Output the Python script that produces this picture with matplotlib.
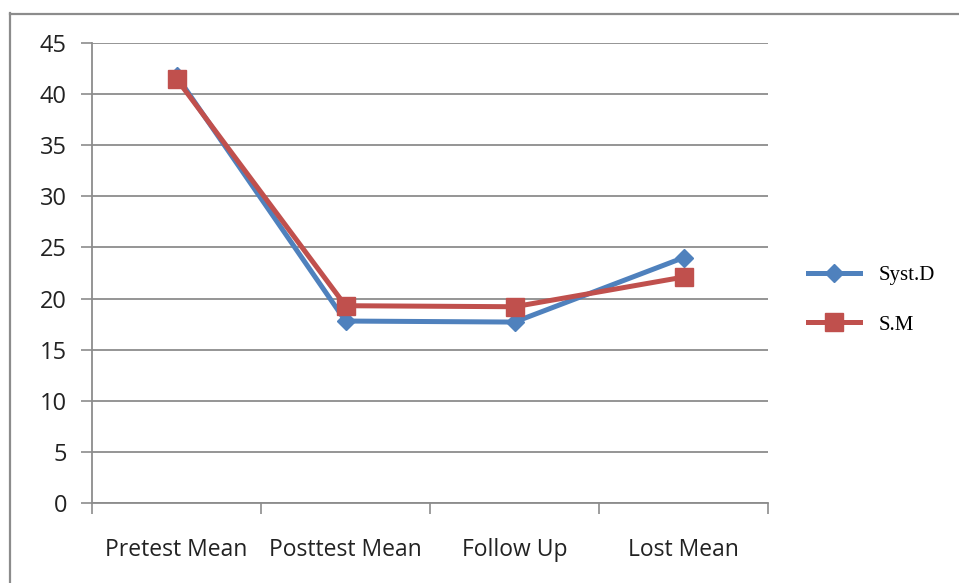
import numpy as np
import matplotlib.pyplot as plt
from matplotlib.lines import Line2D

categories = ['Pretest Mean', 'Posttest Mean', 'Follow Up', 'Lost Mean']
syst_d = [41.8, 17.8, 17.7, 24.0]
s_m = [41.5, 19.3, 19.2, 22.1]
series_names = ['Syst.D', 'S.M']
y_ticks = list(range(0, 50, 5))

blue = '#4f81bd'
red = '#c0504d'
grid_col = '#8c8c8c'

W, H = 959, 583
fig = plt.figure(figsize=(W / 100, H / 100), dpi=100)

# outer chart border (left and top edges visible)
fig.add_artist(Line2D([9.5 / W, 9.5 / W], [0, 1 - 13 / H], transform=fig.transFigure,
                      color=grid_col, lw=1.6))
fig.add_artist(Line2D([9.5 / W, 1], [1 - 13.5 / H, 1 - 13.5 / H], transform=fig.transFigure,
                      color=grid_col, lw=1.6))

ax = fig.add_axes([92 / W, (H - 503) / H, 676 / W, 460 / H])

x = np.arange(len(categories)) + 0.5
ax.plot(x, syst_d, color=blue, lw=3.6, marker='D', ms=9, zorder=3)
ax.plot(x, s_m, color=red, lw=3.6, marker='s', ms=12.5, zorder=4)

ax.set_xlim(0, len(categories))
ax.set_ylim(0, 45)
ax.set_yticks(y_ticks)
ax.yaxis.grid(True, color=grid_col, lw=1.3)
ax.set_axisbelow(True)

# category boundaries carry the tick marks, labels sit at centers
ax.set_xticks(np.arange(len(categories) + 1))
ax.set_xticklabels([])
ax.set_xticks(x, minor=True)
ax.set_xticklabels(categories, minor=True, fontsize=16.5, color='#222222',
                   fontfamily='Open Sans')
ax.tick_params(axis='x', which='major', length=8, width=1.2, color=grid_col, direction='out')
ax.tick_params(axis='x', which='minor', length=0, pad=25)
ax.tick_params(axis='y', length=8, width=1.2, color=grid_col, pad=10,
               labelsize=17, labelcolor='#222222')
for lab in ax.get_yticklabels():
    lab.set_fontfamily('Open Sans')

for side in ['top', 'right']:
    ax.spines[side].set_visible(False)
for side in ['left', 'bottom']:
    ax.spines[side].set_color(grid_col)
    ax.spines[side].set_linewidth(1.3)

handles = [
    Line2D([], [], color=blue, lw=3.6, marker='D', ms=9),
    Line2D([], [], color=red, lw=3.6, marker='s', ms=12.5),
]
fig.legend(handles, series_names, loc='center left', bbox_to_anchor=(789 / W, 1 - 300 / H),
           frameon=False, handlelength=2.5, handletextpad=0.9, labelspacing=1.45,
           prop={'family': 'Liberation Serif', 'size': 15})

fig.savefig('out.png', dpi=100)
